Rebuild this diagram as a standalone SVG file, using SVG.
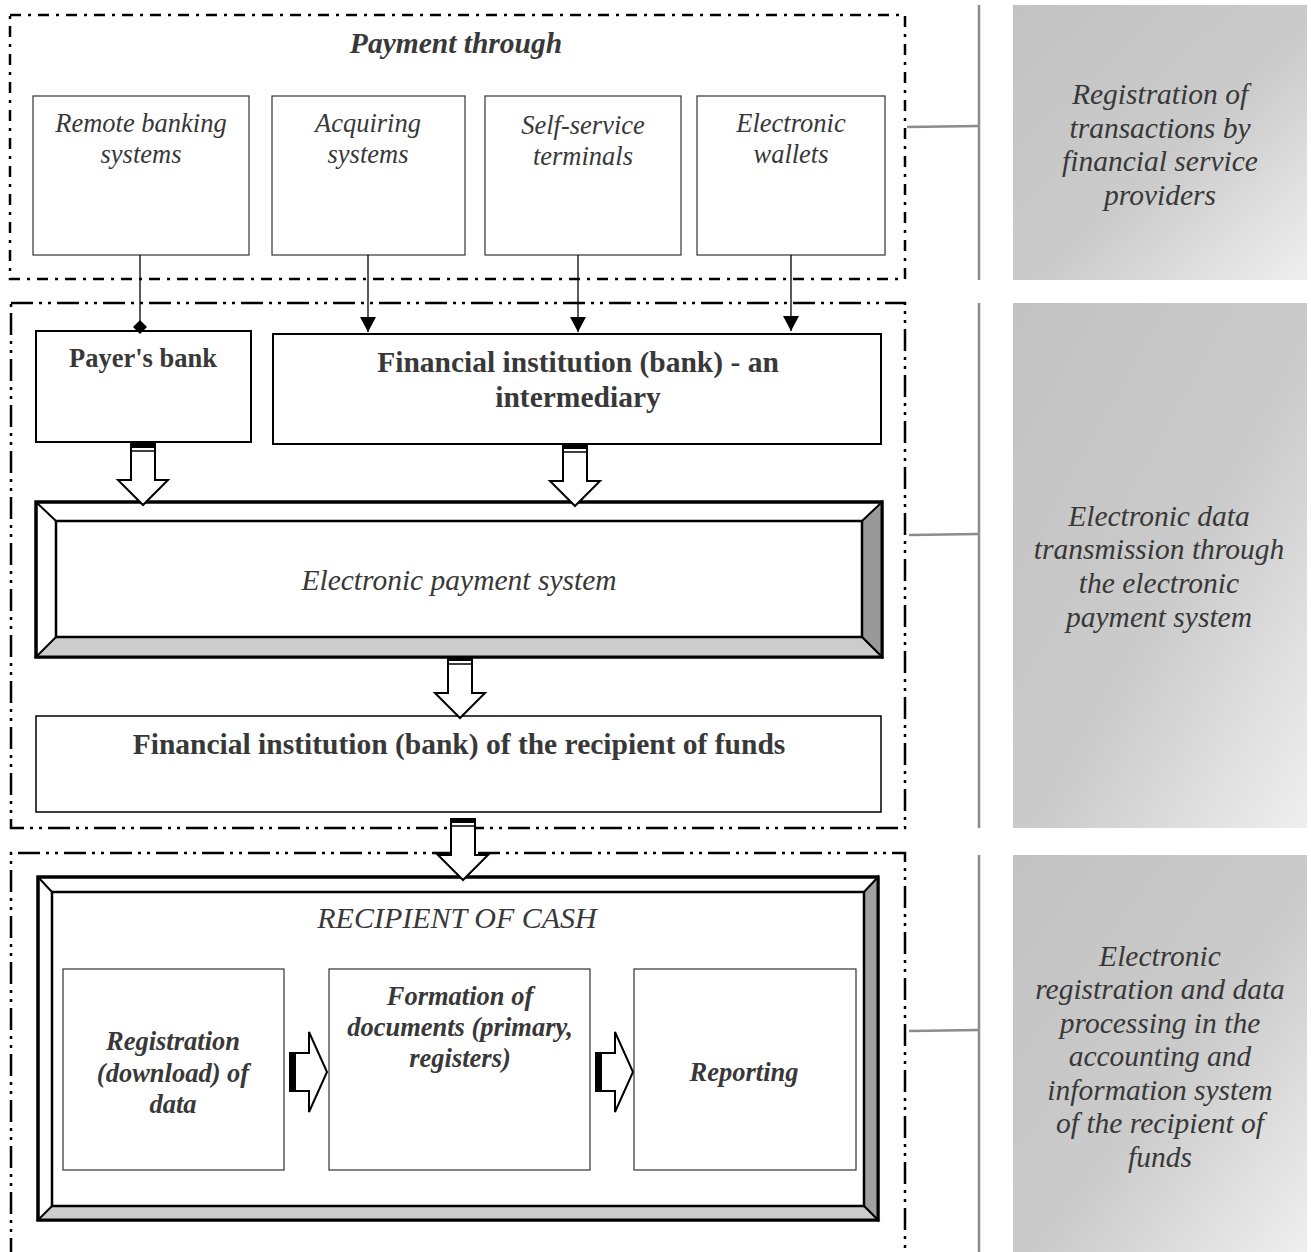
<svg xmlns="http://www.w3.org/2000/svg" xmlns:xlink="http://www.w3.org/1999/xlink" width="1311" height="1252" viewBox="0 0 1311 1252" font-family="'Liberation Serif', 'DejaVu Serif', serif">
<style>
text{font-family:'Liberation Serif','DejaVu Serif',serif;fill:#383838;text-anchor:middle}
.it{font-style:italic}
.b{font-weight:bold}
.pt{font-style:italic;font-size:29.5px}
.frame1{fill:none;stroke:#000;stroke-width:2.5;stroke-dasharray:11 7 3 7}
.frame2{fill:none;stroke:#000;stroke-width:2.5;stroke-dasharray:22 6 3 6 3 6}
.thin{fill:#fff;stroke:#333;stroke-width:1.2}
.box{fill:#fff;stroke:#000;stroke-width:2}
.bracket{stroke:#8c8c8c;stroke-width:2.5;fill:none}
.panel{fill:url(#pg)}
.conn{stroke:#000;stroke-width:1.3;fill:none}
.blk{fill:#fff;stroke:#000;stroke-width:2;stroke-linejoin:miter}
</style>
<defs>
<linearGradient id="pg" x1="0" y1="0" x2="1" y2="1">
<stop offset="0" stop-color="#c2c2c2"/>
<stop offset="0.55" stop-color="#cbcbcb"/>
<stop offset="1" stop-color="#efefef"/>
</linearGradient>
<marker id="tri" markerWidth="16" markerHeight="16" refX="15" refY="8" orient="auto" markerUnits="userSpaceOnUse" viewBox="0 0 16 16">
<path d="M0,0 L15,8 L0,16 Z" fill="#000"/>
</marker>
<g id="downArrow">
<polygon class="blk" points="-12,0 12,0 12,36 25,36 0,61 -25,36 -12,36"/>
<rect x="-13" y="-1" width="26" height="5" fill="#000"/>
<line x1="-12" y1="7" x2="12" y2="7" stroke="#000" stroke-width="1.5"/>
</g>
<g id="rightArrow">
<polygon class="blk" points="0,-19 19,-19 19,-40 37,0 19,40 19,19 0,19"/>
<rect x="0" y="-19" width="6" height="38" fill="#000"/>
</g>
</defs>

<!-- right side panels -->
<g id="panel-1">
<rect class="panel" x="1013" y="5" width="294" height="275"/>
<text class="pt" x="1160" y="104">Registration of</text>
<text class="pt" x="1160" y="138">transactions by</text>
<text class="pt" x="1160" y="171">financial service</text>
<text class="pt" x="1160" y="205">providers</text>
</g>
<g id="panel-2">
<rect class="panel" x="1013" y="303" width="294" height="525"/>
<text class="pt" x="1159" y="526">Electronic data</text>
<text class="pt" x="1159" y="559">transmission through</text>
<text class="pt" x="1159" y="593">the electronic</text>
<text class="pt" x="1159" y="627">payment system</text>
</g>
<g id="panel-3">
<rect class="panel" x="1013" y="855" width="294" height="397"/>
<text class="pt" x="1160" y="966">Electronic</text>
<text class="pt" x="1160" y="999">registration and data</text>
<text class="pt" x="1160" y="1033">processing in the</text>
<text class="pt" x="1160" y="1066">accounting and</text>
<text class="pt" x="1160" y="1100">information system</text>
<text class="pt" x="1160" y="1133">of the recipient of</text>
<text class="pt" x="1160" y="1167">funds</text>
</g>

<!-- brackets -->
<g id="brackets">
<line class="bracket" x1="979" y1="5" x2="979" y2="280"/>
<line class="bracket" x1="907" y1="127" x2="979" y2="126"/>
<line class="bracket" x1="979" y1="303" x2="979" y2="828"/>
<line class="bracket" x1="909" y1="535" x2="979" y2="534"/>
<line class="bracket" x1="979" y1="855" x2="979" y2="1252"/>
<line class="bracket" x1="909" y1="1031" x2="979" y2="1030"/>
</g>

<!-- dashed frames -->
<g id="frame-top">
<rect class="frame1" x="10" y="15" width="895" height="264"/>
<text class="it b" font-size="29.5" x="456" y="53">Payment through</text>
</g>
<g id="frame-middle"><rect class="frame2" x="11" y="303" width="894" height="525"/></g>
<g id="frame-bottom"><path class="frame2" d="M11,1260 L11,853 L905,853 L905,1260"/></g>

<!-- top boxes -->
<g id="remote-banking">
<rect class="thin" x="33" y="96" width="216" height="159"/>
<text class="it" font-size="26.5" x="141" y="132">Remote banking</text>
<text class="it" font-size="26.5" x="141" y="163">systems</text>
</g>
<g id="acquiring">
<rect class="thin" x="272" y="96" width="193" height="159"/>
<text class="it" font-size="26.5" x="368" y="132">Acquiring</text>
<text class="it" font-size="26.5" x="368" y="163">systems</text>
</g>
<g id="self-service">
<rect class="thin" x="485" y="96" width="196" height="159"/>
<text class="it" font-size="26.5" x="583" y="134">Self-service</text>
<text class="it" font-size="26.5" x="583" y="165">terminals</text>
</g>
<g id="wallets">
<rect class="thin" x="697" y="96" width="188" height="159"/>
<text class="it" font-size="26.5" x="791" y="132">Electronic</text>
<text class="it" font-size="26.5" x="791" y="163">wallets</text>
</g>

<!-- middle boxes -->
<g id="payers-bank">
<rect class="box" x="36" y="331" width="215" height="111"/>
<text class="b" font-size="26.5" x="143" y="367">Payer's bank</text>
</g>
<g id="intermediary">
<rect class="box" x="273" y="334" width="608" height="110"/>
<text class="b" font-size="29.5" x="578" y="372">Financial institution (bank) - an</text>
<text class="b" font-size="29.5" x="578" y="407">intermediary</text>
</g>
<g id="eps">
<rect x="36" y="502" width="846" height="155" fill="#fff" stroke="#000" stroke-width="3"/>
<polygon points="882,502 862,521 862,637 882,657" fill="#999" stroke="#000" stroke-width="2"/>
<polygon points="36,657 56,637 862,637 882,657" fill="#ccc" stroke="#000" stroke-width="2"/>
<line x1="36" y1="502" x2="56" y2="521" stroke="#000" stroke-width="2"/>
<rect x="56" y="521" width="806" height="116" fill="#fff" stroke="#000" stroke-width="2.5"/>
<rect x="36" y="502" width="846" height="155" fill="none" stroke="#000" stroke-width="3"/>
<text class="it" font-size="29.5" x="459" y="590">Electronic payment system</text>
</g>
<g id="recipient-bank">
<rect x="36" y="716" width="845" height="96" fill="#fff" stroke="#000" stroke-width="1.5"/>
<text class="b" font-size="29.5" x="459" y="754">Financial institution (bank) of the recipient of funds</text>
</g>

<!-- bottom -->
<g id="recipient-of-cash">
<rect x="38" y="877" width="840" height="343" fill="#fff" stroke="#000" stroke-width="3"/>
<polygon points="878,877 864,892 864,1206 878,1220" fill="#a0a0a0" stroke="#000" stroke-width="2"/>
<polygon points="38,1220 52,1206 864,1206 878,1220" fill="#ccc" stroke="#000" stroke-width="2"/>
<line x1="38" y1="877" x2="52" y2="892" stroke="#000" stroke-width="2"/>
<rect x="52" y="892" width="812" height="314" fill="#fff" stroke="#000" stroke-width="2.5"/>
<rect x="38" y="877" width="840" height="343" fill="none" stroke="#000" stroke-width="3"/>
<text class="it" font-size="30" x="457" y="928">RECIPIENT OF CASH</text>
</g>
<g id="registration">
<rect class="thin" x="63" y="969" width="221" height="201"/>
<text class="it b" font-size="26.5" x="173" y="1050">Registration</text>
<text class="it b" font-size="26.5" x="173" y="1082">(download) of</text>
<text class="it b" font-size="26.5" x="173" y="1113">data</text>
</g>
<g id="formation">
<rect class="thin" x="329" y="969" width="261" height="201"/>
<text class="it b" font-size="26.5" x="460" y="1005">Formation of</text>
<text class="it b" font-size="26.5" x="460" y="1036">documents (primary,</text>
<text class="it b" font-size="26.5" x="460" y="1067">registers)</text>
</g>
<g id="reporting">
<rect class="thin" x="634" y="969" width="222" height="201"/>
<text class="it b" font-size="26.5" x="744" y="1081">Reporting</text>
</g>

<!-- connectors -->
<g id="connectors">
<line class="conn" x1="140" y1="255" x2="140" y2="321"/>
<polygon points="140,320 147,327 140,334 133,327" fill="#000"/>
<line class="conn" x1="368" y1="255" x2="368" y2="332" marker-end="url(#tri)"/>
<line class="conn" x1="578" y1="255" x2="578" y2="332" marker-end="url(#tri)"/>
<line class="conn" x1="791" y1="255" x2="791" y2="331" marker-end="url(#tri)"/>
<use xlink:href="#downArrow" x="143" y="444"/>
<use xlink:href="#downArrow" x="575" y="445"/>
<use xlink:href="#downArrow" x="460" y="657"/>
<use xlink:href="#downArrow" x="463" y="819"/>
<use xlink:href="#rightArrow" x="290" y="1072"/>
<use xlink:href="#rightArrow" x="596" y="1072"/>
</g>
</svg>
